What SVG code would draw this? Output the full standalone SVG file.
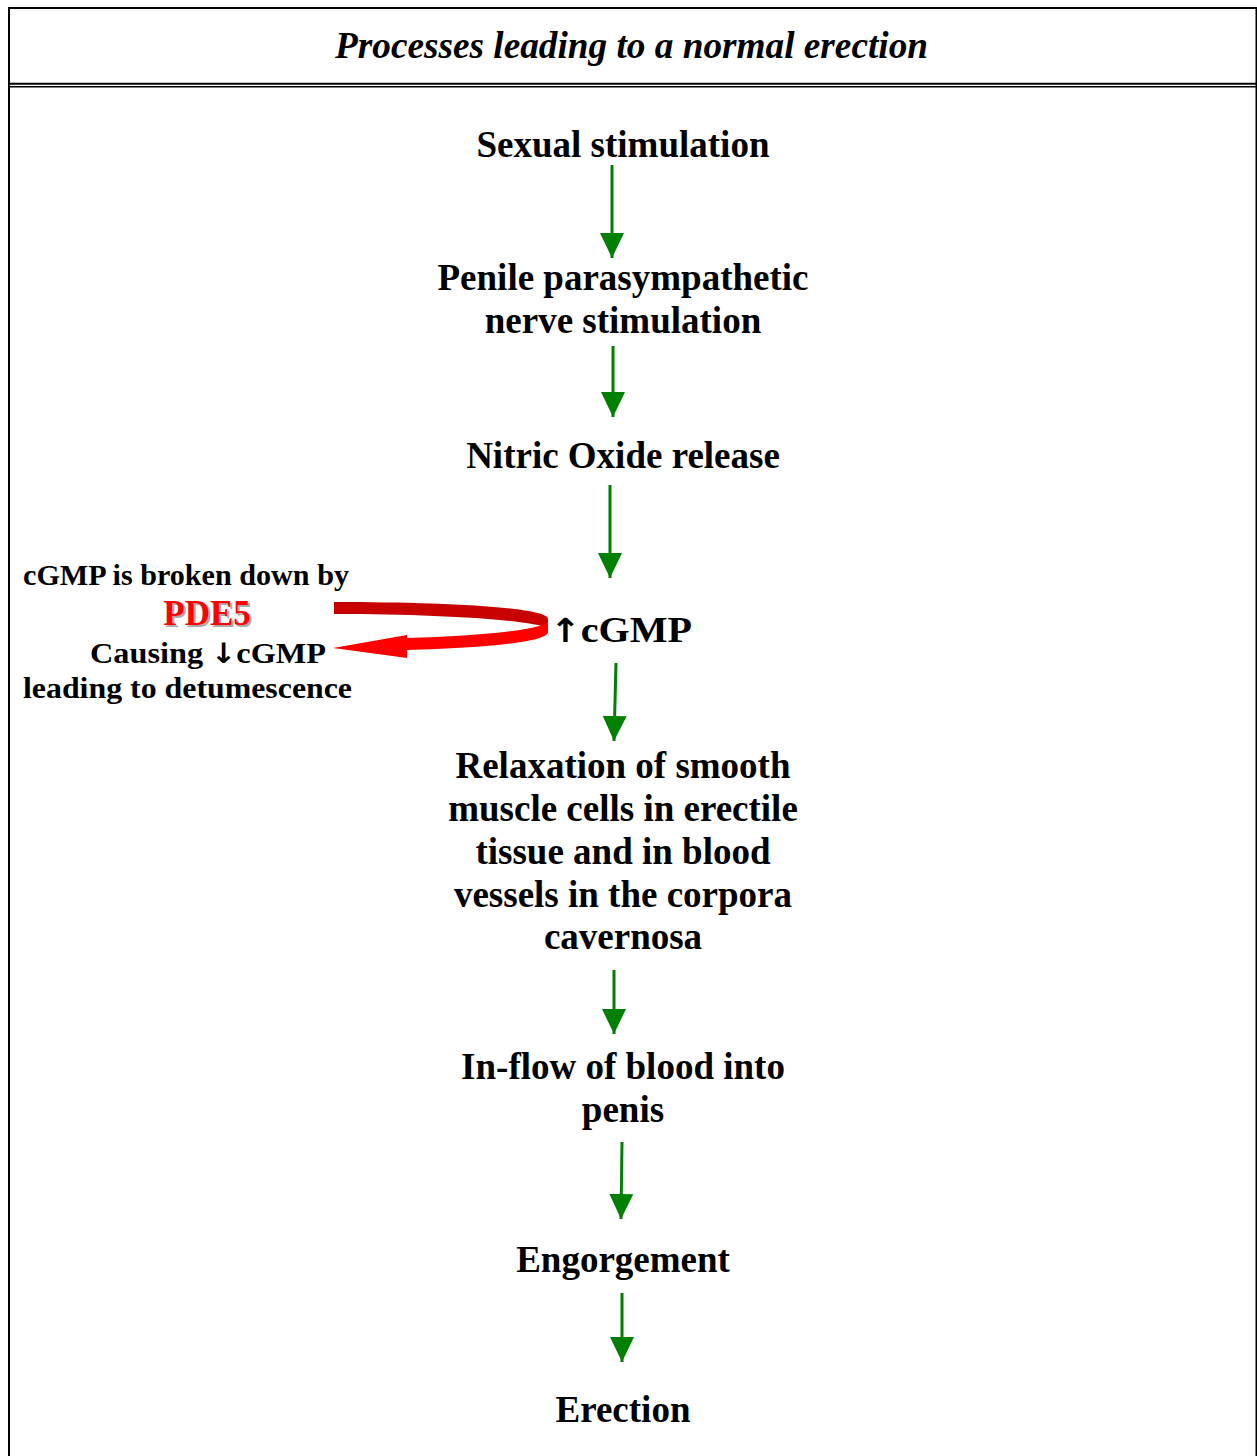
<svg xmlns="http://www.w3.org/2000/svg" width="1257" height="1456" viewBox="0 0 1257 1456">
<style>
.t{font-family:"Liberation Serif","Times New Roman",serif;font-weight:bold;fill:#000}
.m{font-size:37px;text-anchor:middle}
.l{font-size:30px;text-anchor:middle}
.ar{font-family:"DejaVu Sans",sans-serif;font-weight:bold}
.g{stroke:#008000;stroke-width:3;fill:none}
</style>
<defs>
<marker id="ah" markerUnits="userSpaceOnUse" markerWidth="26" markerHeight="26" refX="25" refY="12" orient="auto" viewBox="0 0 26 24">
<path d="M0,0 L25,12 L0,24 Z" fill="#008000"/>
</marker>
</defs>
<rect width="1257" height="1456" fill="#fff"/>
<g id="frame" stroke="#000" fill="none">
<line x1="8" y1="8" x2="1257" y2="8" stroke-width="2"/>
<line x1="9" y1="7" x2="9" y2="1456" stroke-width="2"/>
<line x1="1256.5" y1="7" x2="1256.5" y2="1456" stroke-width="2"/>
<line x1="8" y1="83.7" x2="1257" y2="83.7" stroke-width="2"/>
<line x1="8" y1="86.8" x2="1257" y2="86.8" stroke-width="1.5"/>
</g>
<g id="title"><text class="t" x="631.5" y="58" font-size="37" font-style="italic" text-anchor="middle" textLength="593" lengthAdjust="spacingAndGlyphs">Processes leading to a normal erection</text></g>
<g id="n1"><text class="t m" x="623" y="157">Sexual stimulation</text></g>
<g id="n2"><text class="t m" x="623" y="290">Penile parasympathetic</text><text class="t m" x="623" y="333">nerve stimulation</text></g>
<g id="n3"><text class="t m" x="623" y="468">Nitric Oxide release</text></g>
<g id="n4"><text class="t" x="550" y="642" font-size="36" textLength="142" lengthAdjust="spacingAndGlyphs"><tspan class="ar" font-size="33">↑</tspan>cGMP</text></g>
<g id="n5"><text class="t m" x="623" y="778">Relaxation of smooth</text><text class="t m" x="623" y="821">muscle cells in erectile</text><text class="t m" x="623" y="864">tissue and in blood</text><text class="t m" x="623" y="907">vessels in the corpora</text><text class="t m" x="623" y="949">cavernosa</text></g>
<g id="n6"><text class="t m" x="623" y="1079">In-flow of blood into</text><text class="t m" x="623" y="1122">penis</text></g>
<g id="n7"><text class="t m" x="623" y="1272">Engorgement</text></g>
<g id="n8"><text class="t m" x="623" y="1422">Erection</text></g>
<g id="note">
<text class="t l" x="186" y="585" textLength="326" lengthAdjust="spacingAndGlyphs">cGMP is broken down by</text>
<text class="t" x="209" y="627" font-size="35" text-anchor="middle" style="fill:#aaa">PDE5</text>
<text class="t" x="207" y="625" font-size="35" text-anchor="middle" style="fill:#f00">PDE5</text>
<text class="t" x="90" y="663" font-size="30" textLength="236" lengthAdjust="spacingAndGlyphs">Causing <tspan class="ar" font-size="28">↓</tspan>cGMP</text>
<text class="t l" x="187.5" y="698" textLength="329" lengthAdjust="spacingAndGlyphs">leading to detumescence</text>
</g>
<g id="connectors">
<line class="g" x1="612" y1="165" x2="612" y2="258" marker-end="url(#ah)"/>
<line class="g" x1="613" y1="346" x2="613" y2="417" marker-end="url(#ah)"/>
<line class="g" x1="610" y1="485" x2="610" y2="578" marker-end="url(#ah)"/>
<line class="g" x1="616" y1="663" x2="614" y2="741" marker-end="url(#ah)"/>
<line class="g" x1="614" y1="970" x2="614" y2="1034" marker-end="url(#ah)"/>
<line class="g" x1="622" y1="1142" x2="621" y2="1219" marker-end="url(#ah)"/>
<line class="g" x1="622" y1="1293" x2="622" y2="1362" marker-end="url(#ah)"/>
<g id="pde5-arrow">
<path d="M334,602 C440,602 548,607 548,619 L548,628 C530,620 440,614 334,614 Z" fill="#c80000"/>
<path d="M548,621 C544,630 480,636 407,638 L407,635 L333,648 L407,658 L407,650 C485,648 548,642 548,632 Z" fill="#ff0000"/>
</g>
</g>
</svg>
